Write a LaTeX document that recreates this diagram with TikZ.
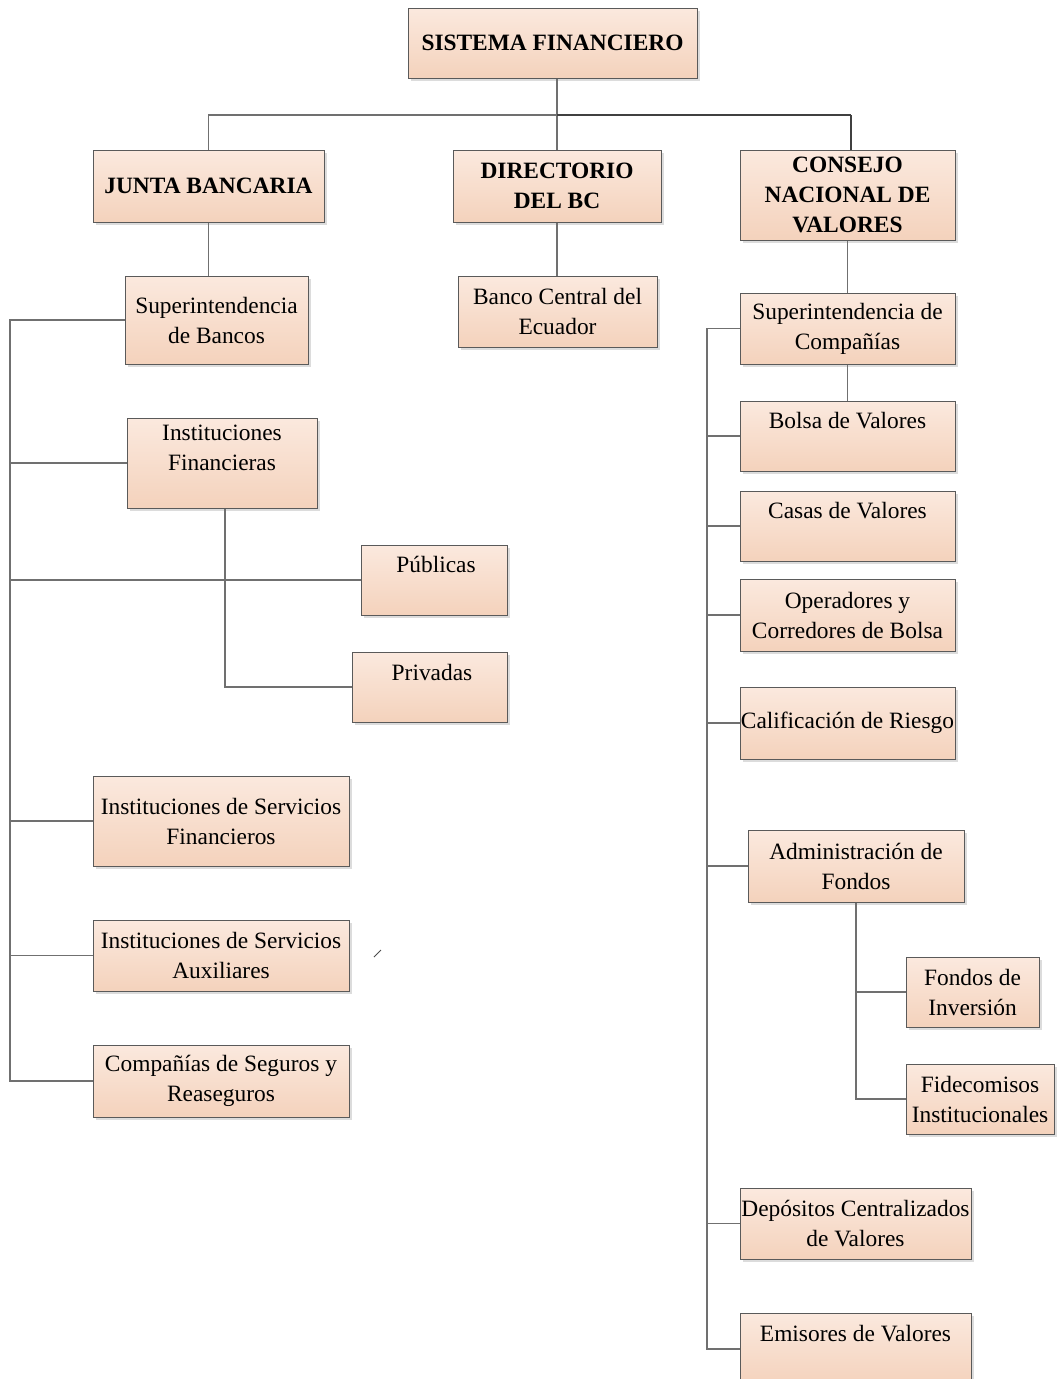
\documentclass[tikz,border=0pt]{standalone}
\usepackage{fontspec}
\setmainfont{Liberation Serif}
\usetikzlibrary{shadows}
\definecolor{boxtop}{HTML}{FBE9DE}
\definecolor{boxbot}{HTML}{F4D2BC}
\definecolor{boxline}{HTML}{5A5A5A}
\definecolor{conn}{HTML}{707070}
\tikzset{
  orgbox/.style={draw=boxline, line width=1pt, top color=boxtop, bottom color=boxbot,
    inner sep=0pt, align=center, font=\fontsize{23.4}{30}\selectfont,
    drop shadow={shadow xshift=3pt, shadow yshift=-3pt, fill=black!30, opacity=0.45}},
  headbox/.style={orgbox, font=\fontsize{23.4}{30}\selectfont\bfseries},
  boxtext/.style={inner sep=0pt, align=center, font=\fontsize{23.4}{30}\selectfont},
  link/.style={draw=conn, line width=1.3pt},
  strong/.style={draw=black!75, line width=2.2pt},
}
\begin{document}
\begin{tikzpicture}[x=1pt, y=-1pt]
\useasboundingbox[fill=white] (0,0) rectangle (1059,1379);

% top level
\node[headbox, minimum width=289pt, minimum height=70pt] (sis) at (552.5,43) {SISTEMA FINANCIERO};
\node[headbox, minimum width=231pt, minimum height=72pt] (junta) at (208.5,186) {JUNTA BANCARIA};
\node[headbox, minimum width=208pt, minimum height=72pt] (dir) at (557,186) {DIRECTORIO\\DEL BC};
\node[headbox, minimum width=215pt, minimum height=90pt] (cnv) at (847.5,195) {CONSEJO\\NACIONAL DE\\VALORES};

% second level
\node[orgbox, minimum width=183pt, minimum height=88pt] (sb) at (216.5,320) {Superintendencia\\de Bancos};
\node[orgbox, minimum width=199pt, minimum height=71pt] (bce) at (557.5,311.5) {Banco Central del\\Ecuador};
\node[orgbox, minimum width=215pt, minimum height=71pt] (sc) at (847.5,328.5) {Superintendencia de\\Compañías};

% left branch
\node[orgbox, minimum width=190pt, minimum height=90pt] (ifin) at (222,463) {};
\node[boxtext] (ifin-t) at (222,448) {Instituciones\\Financieras};
\node[orgbox, minimum width=146pt, minimum height=70pt] (pub) at (434,580) {};
\node[boxtext] (pub-t) at (436,564) {Públicas};
\node[orgbox, minimum width=155pt, minimum height=70pt] (priv) at (429.5,687) {};
\node[boxtext] (priv-t) at (432,672) {Privadas};
\node[orgbox, minimum width=256pt, minimum height=90pt] (isf) at (221,821) {Instituciones de Servicios\\Financieros};
\node[orgbox, minimum width=256pt, minimum height=71pt] (isa) at (221,955.5) {Instituciones de Servicios\\Auxiliares};
\node[orgbox, minimum width=256pt, minimum height=72pt] (cs) at (221,1081) {Compañías de Seguros y\\Reaseguros};

% right branch
\node[orgbox, minimum width=215pt, minimum height=70pt] (bolsa) at (847.5,436) {};
\node[boxtext] (bolsa-t) at (847.5,421) {Bolsa de Valores};
\node[orgbox, minimum width=215pt, minimum height=70pt] (casas) at (847.5,526) {};
\node[boxtext] (casas-t) at (847.5,511) {Casas de Valores};
\node[orgbox, minimum width=215pt, minimum height=72pt] (oper) at (847.5,615) {Operadores y\\Corredores de Bolsa};
\node[orgbox, minimum width=215pt, minimum height=72pt] (calif) at (847.5,723) {Calificación de Riesgo};
\node[orgbox, minimum width=216pt, minimum height=72pt] (adm) at (856,866) {Administración de\\Fondos};
\node[orgbox, minimum width=133pt, minimum height=70pt] (fon) at (972.5,992) {Fondos de\\Inversión};
\node[orgbox, minimum width=148pt, minimum height=70pt] (fid) at (980,1099) {Fidecomisos\\Institucionales};
\node[orgbox, minimum width=231pt, minimum height=71pt] (dep) at (855.5,1223.5) {Depósitos Centralizados\\de Valores};
\node[orgbox, minimum width=231pt, minimum height=72pt] (emi) at (855.5,1349) {};
\node[boxtext] (emi-t) at (855.5,1334) {Emisores de Valores};

% helper coordinates
\coordinate (bus) at (557,115);
\coordinate (busR) at (851,115);
\coordinate (L) at (10,0);
\coordinate (R) at (707,0);
\coordinate (ifx) at (225,0);

% top connectors
\draw[link] (bus |- sis.south) -- (bus);
\draw[link] (bus) -| (junta.north);
\draw[link] (bus) -- (dir.north);
\draw[strong] (bus) -- (busR);
\draw[strong] (busR) -- (busR |- cnv.north);
\draw[link] (junta.south) -- (junta.south |- sb.north);
\draw[link] (dir.south) -- (dir.south |- bce.north);
\draw[link] (cnv.south) -- (cnv.south |- sc.north);
\draw[link] (sc.south) -- (sc.south |- bolsa.north);

% left tree
\draw[link] (sb.west) -- (sb.west -| L) -- (cs.west -| L) -- (cs.west);
\draw[link] (ifin.west) -- (ifin.west -| L);
\draw[link] (pub.west) -- (pub.west -| L);
\draw[link] (isf.west) -- (isf.west -| L);
\draw[link] (isa.west) -- (isa.west -| L);
\draw[link] (ifx |- ifin.south) -- (ifx |- priv.west) -- (priv.west);

% right tree
\draw[link] (sc.west) -- (sc.west -| R) -- (emi.west -| R) -- (emi.west);
\draw[link] (bolsa.west) -- (bolsa.west -| R);
\draw[link] (casas.west) -- (casas.west -| R);
\draw[link] (oper.west) -- (oper.west -| R);
\draw[link] (calif.west) -- (calif.west -| R);
\draw[link] (adm.west) -- (adm.west -| R);
\draw[link] (dep.west) -- (dep.west -| R);

% administracion sub-tree
\draw[link] (adm.south) -- (adm.south |- fid.west) -- (fid.west);
\draw[link] (fon.west) -- (fon.west -| adm.south);

% stray mark
\draw[draw=black!70, line width=1pt] (374,957) -- (381,950);
\end{tikzpicture}
\end{document}
